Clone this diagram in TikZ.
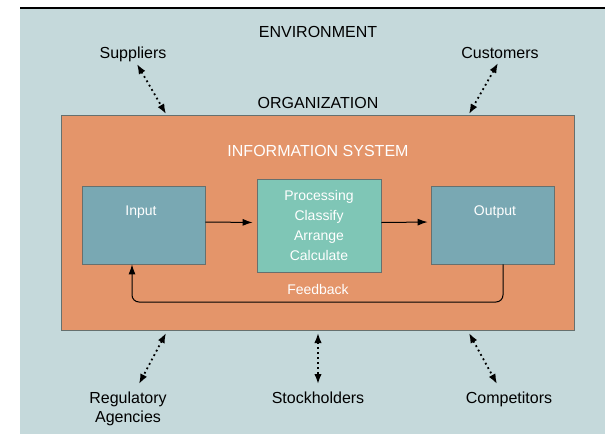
\documentclass[tikz,border=0pt]{standalone}
\usepackage{fontspec}
\setmainfont{Liberation Sans}
\usepackage{xcolor}
\usepackage{tikz}
\usetikzlibrary{arrows.meta, positioning}
\definecolor{envblue}{HTML}{C5D9DB}
\definecolor{orgorange}{HTML}{E4956A}
\definecolor{ioteal}{HTML}{79A8B3}
\definecolor{procgreen}{HTML}{7FC6B6}
\definecolor{boxline}{HTML}{66706E}
\tikzset{
  biglabel/.style={
    font=\fontsize{16}{19}\selectfont,
    anchor=base,
    inner sep=0pt
    },
  smalllabel/.style={
    font=\fontsize{14}{17}\selectfont,
    text=white,
    anchor=base,
    inner sep=0pt
    },
  orgbox/.style={
    rectangle,
    minimum width=513pt,
    minimum height=215pt,
    draw=boxline,
    line width=0.8pt,
    fill=orgorange
    },
  iobox/.style={
    rectangle,
    minimum width=123pt,
    minimum height=78pt,
    draw=boxline,
    line width=0.8pt,
    fill=ioteal
    },
  procbox/.style={
    rectangle,
    minimum width=124pt,
    minimum height=93pt,
    align=center,
    text=white,
    font=\fontsize{14}{20}\selectfont,
    draw=boxline,
    line width=0.8pt,
    fill=procgreen
    },
  arrow/.style={line width=1pt,-{Latex[length=10pt,width=7pt]}},
  dotarrow/.style={
    line width=1.8pt,
    dash pattern=on 1.8pt off 3.2pt,
    {Latex[length=10pt,width=7.5pt]}-{Latex[length=10pt,width=7.5pt]}
    },
}

\begin{document}
\begin{tikzpicture}[x=1pt,y=-1pt]
\useasboundingbox (0,0) rectangle (605,434);
\fill[white] (0,0) rectangle (605,434);
\fill[envblue] (20,8) rectangle (605,434);
\draw[line width=1.5pt] (20,8) -- (605,8);

% environment
\node (env) [biglabel] at (318,37) {ENVIRONMENT};
\node (sup) [biglabel] at (133,58) {Suppliers};
\node (cus) [biglabel] at (500,58) {Customers};
\node (orglab) [biglabel] at (318,108) {ORGANIZATION};
\node (reg) [biglabel, align=center] at (128,422) {Regulatory\\Agencies};
\node (sto) [biglabel] at (318,403) {Stockholders};
\node (com) [biglabel] at (509,403) {Competitors};

% organization and system
\node (org) [orgbox] at (317.5,222.5) {};
\node (islab) [biglabel, text=white] at (318,156) {INFORMATION SYSTEM};
\node (input) [iobox] at (143.5,225) {};
\node (proc) [procbox] at (319,225.5) {Processing\\Classify\\Arrange\\Calculate};
\node (output) [iobox] at (492.5,225) {};
\node (intext) [smalllabel] at (141,215) {Input};
\node (outtext) [smalllabel] at (495,215) {Output};
\coordinate (fb) at (318,302);
\node (fblab) [smalllabel] at (318,294) {Feedback};

\draw [arrow, shorten >=4pt] ([yshift=3pt]input.east) -- ([yshift=3pt]proc.west);
\draw [arrow, shorten >=3pt] ([yshift=3pt]proc.east) -- ([yshift=3pt]output.west);
\draw [arrow, rounded corners=7pt] ([xshift=10.5pt]output.south) |- (fb) -| ([xshift=-11.5pt]input.south);

% links to the environment
\coordinate (supA) at (137,64);
\coordinate (supB) at (166,114);
\coordinate (cusA) at (498,63);
\coordinate (cusB) at (469,114);
\coordinate (regA) at (166,333);
\coordinate (regB) at (139,384);
\coordinate (stoA) at (318,333);
\coordinate (stoB) at (318,384);
\coordinate (comA) at (469,333);
\coordinate (comB) at (497,384);
\draw [dotarrow] (supA) -- (supB);
\draw [dotarrow] (cusA) -- (cusB);
\draw [dotarrow] (regA) -- (regB);
\draw [dotarrow] (stoA) -- (stoB);
\draw [dotarrow] (comA) -- (comB);
\end{tikzpicture}
\end{document}
